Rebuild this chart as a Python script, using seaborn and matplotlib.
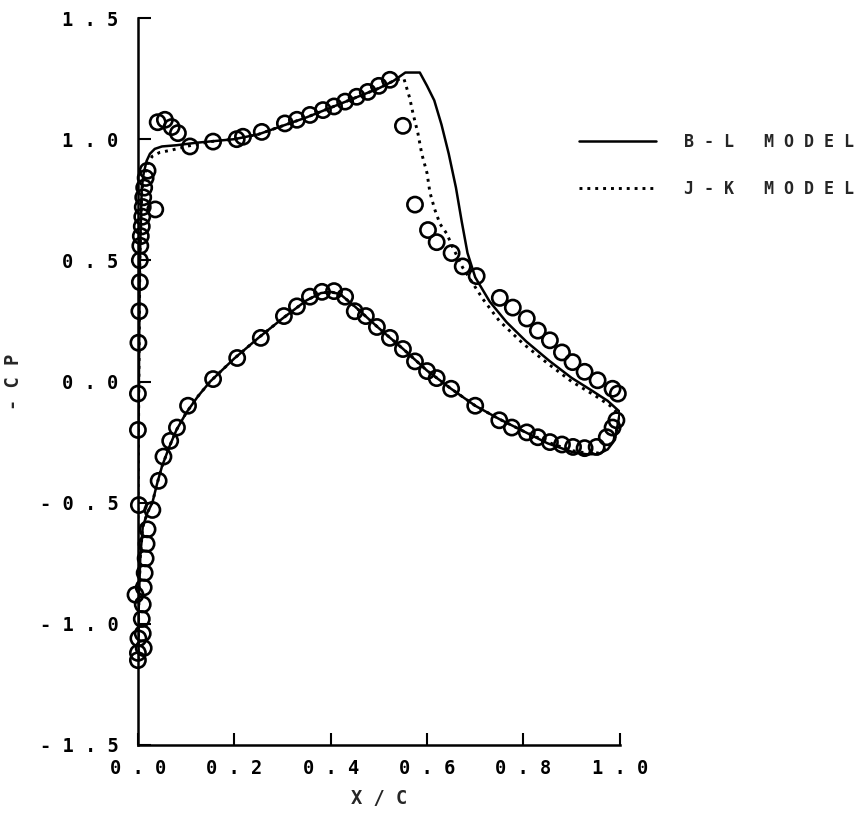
import matplotlib
matplotlib.use("Agg")
import matplotlib.pyplot as plt
from matplotlib.lines import Line2D
import seaborn as sns

# ---------------- data ----------------
# experimental points, upper surface (x/c, -Cp)
exp_upper_x = [0.000, 0.000, 0.001, -0.005, 0.002, 0.000, 0.000, 0.001, 0.003, 0.004,
               0.004, 0.005, 0.006, 0.008, 0.009, 0.010, 0.036, 0.011, 0.013, 0.016,
               0.020, 0.041, 0.056, 0.070, 0.083, 0.108, 0.156, 0.205, 0.218, 0.257,
               0.305, 0.330, 0.357, 0.384, 0.407, 0.430, 0.454, 0.477, 0.500, 0.523,
               0.550, 0.575, 0.602, 0.620, 0.651, 0.674, 0.703, 0.751, 0.778, 0.807,
               0.830, 0.855, 0.880, 0.902, 0.927, 0.954, 0.985, 0.996]
exp_upper_cp = [-1.15, -1.12, -1.06, -0.88, -0.51, -0.20, -0.05, 0.16, 0.29, 0.41,
                0.50, 0.56, 0.60, 0.64, 0.68, 0.72, 0.71, 0.76, 0.80, 0.84,
                0.87, 1.07, 1.08, 1.05, 1.025, 0.97, 0.99, 1.00, 1.01, 1.03,
                1.065, 1.08, 1.10, 1.12, 1.135, 1.155, 1.175, 1.195, 1.22, 1.245,
                1.055, 0.73, 0.625, 0.575, 0.53, 0.475, 0.435, 0.345, 0.305, 0.26,
                0.21, 0.17, 0.12, 0.08, 0.04, 0.005, -0.03, -0.05]

# experimental points, lower surface
exp_lower_x = [0.012, 0.010, 0.008, 0.010, 0.012, 0.014, 0.016, 0.018, 0.020, 0.030,
               0.043, 0.053, 0.067, 0.081, 0.104, 0.156, 0.206, 0.255, 0.303, 0.330,
               0.357, 0.382, 0.407, 0.430, 0.450, 0.473, 0.496, 0.523, 0.550, 0.575,
               0.600, 0.620, 0.650, 0.700, 0.750, 0.776, 0.807, 0.830, 0.855, 0.880,
               0.903, 0.927, 0.952, 0.973, 0.985, 0.993]
exp_lower_cp = [-1.10, -1.04, -0.98, -0.92, -0.85, -0.79, -0.73, -0.67, -0.61, -0.53,
                -0.41, -0.31, -0.245, -0.19, -0.10, 0.01, 0.097, 0.18, 0.27, 0.31,
                0.35, 0.37, 0.373, 0.35, 0.29, 0.27, 0.225, 0.18, 0.134, 0.083,
                0.043, 0.014, -0.03, -0.10, -0.16, -0.19, -0.21, -0.23, -0.25, -0.26,
                -0.27, -0.275, -0.27, -0.23, -0.19, -0.16]

# B-L model
bl_upper_x = [0.0, 0.0, 0.002, 0.004, 0.008, 0.012, 0.018, 0.025, 0.035, 0.05, 0.08, 0.12,
              0.2, 0.25, 0.3, 0.35, 0.4, 0.45, 0.5, 0.53, 0.555, 0.585, 0.6, 0.615,
              0.63, 0.645, 0.66, 0.672, 0.684, 0.70, 0.73, 0.765, 0.806, 0.854, 0.90,
              0.944, 0.975, 1.0]
bl_upper_cp = [-1.15, -0.5, 0.0, 0.5, 0.8, 0.86, 0.91, 0.94, 0.96, 0.97, 0.975, 0.985,
               1.0, 1.02, 1.055, 1.09, 1.13, 1.17, 1.21, 1.24, 1.275, 1.275, 1.22, 1.16,
               1.06, 0.94, 0.80, 0.66, 0.53, 0.43, 0.33, 0.245, 0.165, 0.085, 0.015,
               -0.04, -0.08, -0.125]
bl_lower_x = [0.0, 0.002, 0.005, 0.01, 0.02, 0.03, 0.04, 0.05, 0.065, 0.08, 0.1, 0.125,
              0.15, 0.2, 0.25, 0.3, 0.35, 0.38, 0.4, 0.42, 0.45, 0.5, 0.55, 0.6, 0.65,
              0.7, 0.75, 0.8, 0.85, 0.9, 0.93, 0.955, 0.975, 0.99, 1.0]
bl_lower_cp = [-1.15, -0.9, -0.72, -0.6, -0.54, -0.5, -0.42, -0.35, -0.27, -0.2, -0.13,
               -0.06, 0.0, 0.095, 0.18, 0.26, 0.335, 0.365, 0.37, 0.36, 0.31, 0.22, 0.135,
               0.045, -0.03, -0.10, -0.155, -0.205, -0.255, -0.29, -0.30, -0.30, -0.28,
               -0.24, -0.13]

# J-K model
jk_upper_x = [0.0, 0.0, 0.002, 0.004, 0.008, 0.012, 0.02, 0.03, 0.045, 0.07, 0.1, 0.15,
              0.2, 0.25, 0.3, 0.35, 0.4, 0.45, 0.5, 0.535, 0.552, 0.564, 0.571, 0.581,
              0.589, 0.6, 0.606, 0.616, 0.627, 0.641, 0.653, 0.674, 0.695, 0.716, 0.75,
              0.8, 0.85, 0.9, 0.95, 0.98, 1.0]
jk_upper_cp = [-1.15, -0.5, 0.0, 0.5, 0.78, 0.84, 0.9, 0.93, 0.945, 0.955, 0.97, 0.99,
               1.0, 1.02, 1.055, 1.09, 1.13, 1.17, 1.21, 1.245, 1.25, 1.17, 1.105, 1.025,
               0.94, 0.86, 0.78, 0.71, 0.65, 0.61, 0.555, 0.47, 0.405, 0.34, 0.25,
               0.155, 0.075, 0.0, -0.06, -0.10, -0.14]
jk_lower_x = [0.0, 0.002, 0.005, 0.01, 0.02, 0.03, 0.04, 0.05, 0.065, 0.08, 0.1, 0.125,
              0.15, 0.2, 0.25, 0.3, 0.35, 0.38, 0.4, 0.42, 0.45, 0.5, 0.55, 0.6, 0.65,
              0.7, 0.75, 0.8, 0.85, 0.9, 0.93, 0.955, 0.975, 0.99, 1.0]
jk_lower_cp = [-1.15, -0.9, -0.72, -0.6, -0.54, -0.5, -0.42, -0.35, -0.27, -0.2, -0.13,
               -0.06, 0.0, 0.095, 0.18, 0.26, 0.335, 0.365, 0.37, 0.36, 0.31, 0.22, 0.135,
               0.045, -0.03, -0.10, -0.155, -0.205, -0.25, -0.285, -0.295, -0.295, -0.275,
               -0.23, -0.14]

x_ticks = [0.0, 0.2, 0.4, 0.6, 0.8, 1.0]
x_tick_labels = ["0 . 0", "0 . 2", "0 . 4", "0 . 6", "0 . 8", "1 . 0"]
y_ticks = [-1.5, -1.0, -0.5, 0.0, 0.5, 1.0, 1.5]
y_tick_labels = ["- 1 . 5", "- 1 . 0", "- 0 . 5", "0 . 0", "0 . 5", "1 . 0", "1 . 5"]
legend_labels = ["B - L   M O D E L", "J - K   M O D E L"]
x_label = "X / C"
y_label = "- C P"

# ---------------- style ----------------
sns.set_style("ticks")
plt.rcParams["font.family"] = ["DejaVu Sans Mono", "DejaVu Sans"]
plt.rcParams["font.weight"] = "bold"
plt.rcParams["axes.labelweight"] = "bold"

fig = plt.figure(figsize=(8.62, 8.15), dpi=100)
ax = fig.add_axes([0.160, 0.0859, 0.559, 0.8920])

solid_kw = dict(color="black", lw=1.8, linestyle="-")
dot_kw = dict(color="black", lw=2.1, linestyle=(0, (1, 1.7)))

sns.lineplot(x=bl_upper_x, y=bl_upper_cp, sort=False, estimator=None, ax=ax, **solid_kw)
sns.lineplot(x=bl_lower_x, y=bl_lower_cp, sort=False, estimator=None, ax=ax, **solid_kw)
sns.lineplot(x=jk_upper_x, y=jk_upper_cp, sort=False, estimator=None, ax=ax, **dot_kw)
sns.lineplot(x=jk_lower_x, y=jk_lower_cp, sort=False, estimator=None, ax=ax, **dot_kw)

for xs, ys in [(exp_upper_x, exp_upper_cp), (exp_lower_x, exp_lower_cp)]:
    sns.scatterplot(x=xs, y=ys, ax=ax, marker="o", s=120, facecolors="none",
                    edgecolors="black", linewidths=1.9, clip_on=False, zorder=3)

ax.set_xlim(0, 1.0)
ax.set_ylim(-1.5, 1.5)
ax.set_xticks(x_ticks)
ax.set_xticklabels(x_tick_labels)
ax.set_yticks(y_ticks)
ax.set_yticklabels(y_tick_labels)
ax.tick_params(direction="in", length=9, width=1.5, labelsize=13.5, colors="black")
ax.tick_params(axis="y", pad=14)
ax.tick_params(axis="x", pad=10)
for s in ["top", "right"]:
    ax.spines[s].set_visible(False)
for s in ["left", "bottom"]:
    ax.spines[s].set_linewidth(1.8)
    ax.spines[s].set_color("black")

ax.set_xlabel(x_label, fontsize=13.5, labelpad=8)
ax.set_ylabel(y_label, fontsize=13.5, labelpad=12)

handles = [Line2D([], [], **solid_kw), Line2D([], [], **dot_kw)]
fig.legend(handles, legend_labels, loc="upper left", bbox_to_anchor=(0.672, 0.837),
           bbox_transform=fig.transFigure, frameon=False, fontsize=12,
           handlelength=4.6, handletextpad=1.7, labelspacing=1.75, borderpad=0,
           borderaxespad=0)

fig.savefig("out.png", dpi=100, facecolor="white")
